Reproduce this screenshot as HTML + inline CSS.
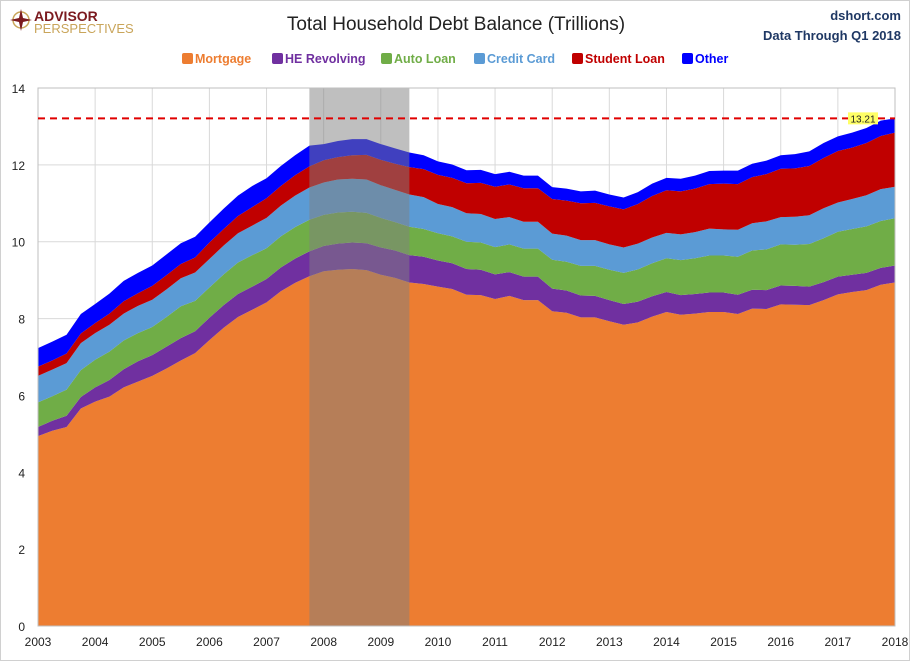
<!DOCTYPE html>
<html><head><meta charset="utf-8">
<style>
body{margin:0;background:#fff;font-family:"Liberation Sans",sans-serif;}
#wrap{position:relative;width:910px;height:661px;overflow:hidden;border:1px solid #d0d0d0;box-sizing:border-box;}
svg text{font-family:"Liberation Sans",sans-serif;}
</style></head>
<body>
<div id="wrap">
<svg id="chart" width="910" height="661">
  <g>
    <circle cx="20" cy="19" r="8" fill="none" stroke="#c9a55a" stroke-width="1.5"/>
    <polygon points="20,8 22,17 31,19 22,21 20,30 18,21 9,19 18,17" fill="#7b1a1f"/>
    <text x="33" y="20" font-size="14" font-weight="bold" fill="#7b1a1f">ADVISOR</text>
    <text x="33" y="32" font-size="13" fill="#c9a55a">PERSPECTIVES</text>
  </g>
  <text x="455" y="29" text-anchor="middle" font-size="19" fill="#222">Total Household Debt Balance (Trillions)</text>
  <text x="900" y="19" text-anchor="end" font-size="13" font-weight="bold" fill="#1f3864">dshort.com</text>
  <text x="900" y="39" text-anchor="end" font-size="13" font-weight="bold" fill="#1f3864">Data Through Q1 2018</text>
  <g id="legend"></g>
  <g id="grid"></g>
  <g id="areas"></g>
  <rect id="rec" fill="rgba(128,128,128,0.5)"/>
  <g id="axes"></g>
  <g id="ref"></g>
</svg>
</div>
<script>
const years = [2003,2004,2005,2006,2007,2008,2009,2010,2011,2012,2013,2014,2015,2016,2017,2018];
const yTicks = [0,2,4,6,8,10,12,14];
const seriesNames = ["Mortgage","HE Revolving","Auto Loan","Credit Card","Student Loan","Other"];
const seriesColors = ["#ED7D31","#7030A0","#70AD47","#5B9BD5","#C00000","#0000FF"];
const mortgage = [4.94,5.08,5.18,5.66,5.84,5.97,6.21,6.36,6.51,6.70,6.91,7.10,7.44,7.76,8.04,8.23,8.42,8.71,8.93,9.10,9.23,9.27,9.29,9.26,9.14,9.06,8.94,8.90,8.83,8.77,8.62,8.61,8.51,8.59,8.48,8.48,8.19,8.15,8.03,8.03,7.93,7.84,7.90,8.05,8.17,8.10,8.13,8.17,8.17,8.12,8.26,8.25,8.37,8.36,8.35,8.48,8.63,8.69,8.74,8.88,8.94];
const heRevolving = [0.24,0.26,0.29,0.30,0.37,0.43,0.47,0.53,0.54,0.57,0.58,0.57,0.58,0.59,0.60,0.60,0.61,0.62,0.63,0.65,0.66,0.68,0.69,0.70,0.71,0.71,0.71,0.71,0.68,0.67,0.67,0.66,0.64,0.62,0.61,0.61,0.59,0.58,0.57,0.56,0.55,0.54,0.54,0.53,0.52,0.51,0.51,0.51,0.51,0.50,0.49,0.49,0.49,0.49,0.48,0.47,0.46,0.45,0.45,0.44,0.44];
const autoLoan = [0.64,0.64,0.68,0.70,0.72,0.74,0.75,0.73,0.73,0.77,0.83,0.79,0.79,0.80,0.82,0.82,0.80,0.81,0.82,0.82,0.81,0.81,0.80,0.79,0.77,0.74,0.74,0.72,0.71,0.70,0.71,0.71,0.71,0.72,0.73,0.73,0.75,0.75,0.77,0.78,0.79,0.81,0.84,0.86,0.88,0.91,0.93,0.96,0.96,0.99,1.02,1.06,1.07,1.07,1.11,1.14,1.17,1.19,1.21,1.22,1.23];
const creditCard = [0.69,0.69,0.69,0.70,0.69,0.70,0.70,0.71,0.71,0.72,0.73,0.74,0.74,0.75,0.76,0.77,0.79,0.80,0.82,0.84,0.84,0.86,0.86,0.87,0.85,0.84,0.84,0.83,0.76,0.76,0.74,0.74,0.73,0.71,0.70,0.70,0.68,0.68,0.67,0.67,0.66,0.66,0.67,0.67,0.66,0.67,0.68,0.70,0.68,0.70,0.71,0.73,0.71,0.73,0.75,0.78,0.76,0.78,0.81,0.83,0.82];
const studentLoan = [0.24,0.24,0.25,0.25,0.26,0.29,0.32,0.33,0.36,0.37,0.37,0.39,0.43,0.43,0.45,0.48,0.51,0.51,0.53,0.55,0.58,0.58,0.61,0.64,0.66,0.68,0.71,0.73,0.76,0.76,0.78,0.81,0.84,0.85,0.87,0.87,0.90,0.91,0.96,0.97,0.99,0.99,1.03,1.08,1.11,1.12,1.13,1.16,1.19,1.19,1.20,1.23,1.26,1.26,1.28,1.31,1.34,1.34,1.36,1.38,1.41];
const other = [0.48,0.49,0.49,0.51,0.50,0.52,0.53,0.53,0.53,0.54,0.54,0.54,0.52,0.53,0.53,0.55,0.52,0.52,0.52,0.54,0.42,0.42,0.42,0.41,0.41,0.40,0.38,0.36,0.35,0.35,0.34,0.34,0.33,0.33,0.33,0.33,0.31,0.31,0.31,0.32,0.31,0.31,0.31,0.32,0.32,0.33,0.34,0.34,0.34,0.35,0.35,0.35,0.35,0.37,0.38,0.39,0.38,0.39,0.39,0.40,0.37];
const recession = [2007.75, 2009.5];
const latestLabel = "13.21";

const NS="http://www.w3.org/2000/svg";
const X0=37,X1=894,Y0=625,Y1=87;
const xs=v=>X0+(v-2003)/15*(X1-X0);
const ys=v=>Y0-v/14*(Y0-Y1);
function mk(tag,attrs,parent){const e=document.createElementNS(NS,tag);for(const k in attrs)e.setAttribute(k,attrs[k]);parent.appendChild(e);return e;}

const grid=document.getElementById('grid');
years.forEach(y=>{const l=mk('line',{x1:xs(y),x2:xs(y),y1:Y1,y2:Y0,stroke:'#d9d9d9'},grid);

});
yTicks.forEach(t=>{const l=mk('line',{x1:X0,x2:X1,y1:ys(t),y2:ys(t),stroke:'#d9d9d9'},grid);

});

const all=[mortgage,heRevolving,autoLoan,creditCard,studentLoan,other];
const n=mortgage.length;
const xq=i=>xs(2003+i/4);
let base=new Array(n).fill(0);
const areas=document.getElementById('areas');
all.forEach((s,k)=>{
  const top=base.map((b,i)=>b+s[i]);
  let d='M'+xq(0)+','+ys(top[0]);
  for(let i=1;i<n;i++)d+=' L'+xq(i)+','+ys(top[i]);
  for(let i=n-1;i>=0;i--)d+=' L'+xq(i)+','+ys(base[i]);
  d+='Z';
  const p=mk('path',{d:d,fill:seriesColors[k]},areas);
  
  
  base=top;
});

const rec=document.getElementById('rec');
rec.setAttribute('x',xs(recession[0]));rec.setAttribute('width',xs(recession[1])-xs(recession[0]));
rec.setAttribute('y',Y1);rec.setAttribute('height',Y0-Y1);

const axes=document.getElementById('axes');
mk('rect',{x:X0,y:Y1,width:X1-X0,height:Y0-Y1,fill:'none',stroke:'#bfbfbf'},axes);
yTicks.forEach(t=>{const e=mk('text',{x:X0-13,y:ys(t)+5,'text-anchor':'end','font-size':12,fill:'#222'},axes);e.textContent=t;

});
years.forEach(y=>{const e=mk('text',{x:xs(y),y:645,'text-anchor':'middle','font-size':12,fill:'#222'},axes);e.textContent=y;

});

const total=base[n-1];
const ref=document.getElementById('ref');
const dl=mk('line',{x1:X0,x2:X1,y1:ys(total),y2:ys(total),stroke:'#e00000','stroke-width':2,'stroke-dasharray':'7,5'},ref);


const lx=xq(n-1)-47,ly=ys(total)-6;
mk('rect',{x:lx,y:ly,width:30,height:12,fill:'#ffff66'},ref);
const lt=mk('text',{x:lx+15,y:ly+10,'text-anchor':'middle','font-size':10,fill:'#222'},ref);lt.textContent=latestLabel;



const leg=document.getElementById('legend');
const legX=[181,271,380,473,571,681];
seriesNames.forEach((nm,k)=>{
  const g=mk('g',{},leg);
  
  
  mk('rect',{x:legX[k],y:52,width:11,height:11,rx:2,fill:seriesColors[k]},g);
  const t=mk('text',{x:legX[k]+13,y:62,'font-size':12.5,'font-weight':'bold',fill:seriesColors[k]},g);t.textContent=nm;
});
</script>
</body></html>
